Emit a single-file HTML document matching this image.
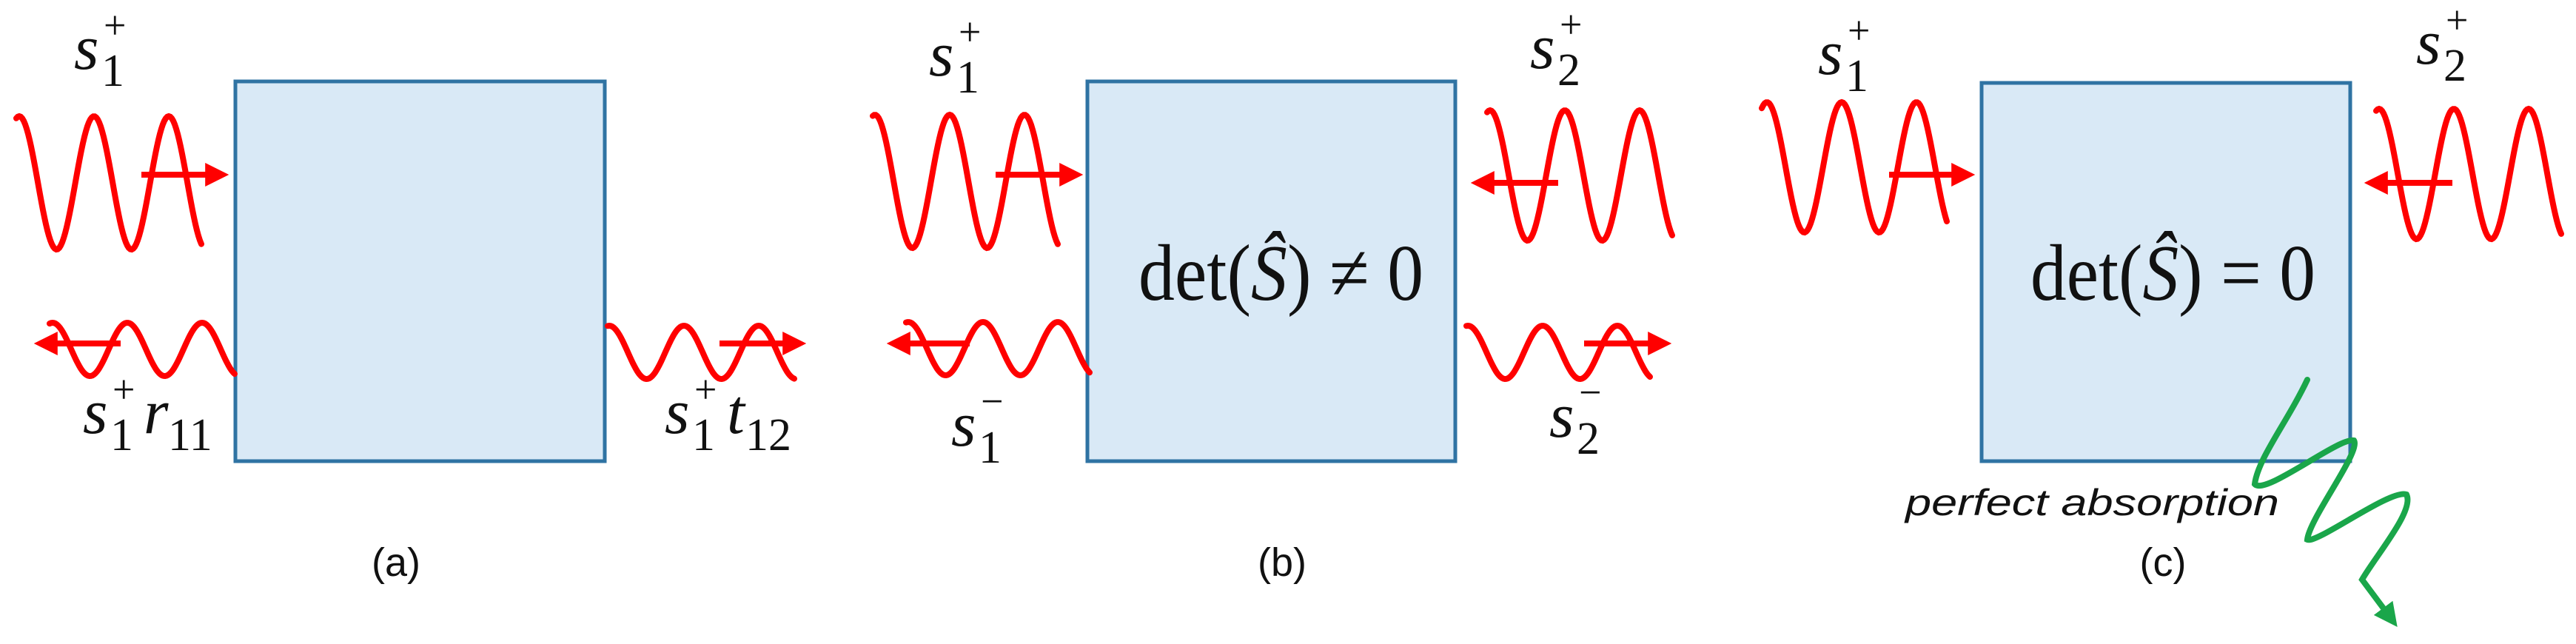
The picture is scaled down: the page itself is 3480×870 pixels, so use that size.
<!DOCTYPE html>
<html><head><meta charset="utf-8"><style>
html,body{margin:0;padding:0;background:#fff;}
svg{display:block}
.m{font-family:"Liberation Serif","DejaVu Serif","Times New Roman",serif !important;}
</style></head><body>
<svg id="s" width="3480" height="870" viewBox="0 0 3480 870" xmlns="http://www.w3.org/2000/svg">
<defs>
<marker id="ar" markerWidth="4" markerHeight="4" refX="2.6" refY="2" orient="auto" markerUnits="strokeWidth"><path d="M0,0 L4,2 L0,4 z" fill="#ff0000"/></marker>
<marker id="ag" markerWidth="4" markerHeight="4" refX="2.6" refY="2" orient="auto" markerUnits="strokeWidth"><path d="M0,0 L4,2 L0,4 z" fill="#1aa64a"/></marker>
</defs>
<g fill="#d9e9f6" stroke="#2f73a3" stroke-width="5">
<rect x="318" y="110" width="499" height="513"/>
<rect x="1469" y="110" width="497" height="513"/>
<rect x="2677" y="112" width="498" height="511"/>
</g>
<g id="waves" fill="none" stroke="#ff0000" stroke-width="8" stroke-linecap="round"></g>
<g fill="none" stroke="#ff0000" stroke-width="8" marker-end="url(#ar)">
<line x1="191" y1="236" x2="298" y2="236"/>
<line x1="163" y1="464" x2="57" y2="464"/>
<line x1="972" y1="464" x2="1078" y2="464"/>
<line x1="1345" y1="236" x2="1452" y2="236"/>
<line x1="1310" y1="464" x2="1209" y2="464"/>
<line x1="2105" y1="247" x2="1998" y2="247"/>
<line x1="2140" y1="464" x2="2247" y2="464"/>
<line x1="2552" y1="236" x2="2657" y2="236"/>
<line x1="3313" y1="247" x2="3205" y2="247"/>
</g>
<path d="M3117,513 C3090,570 3050,620 3046,654 C3060,670 3160,590 3180,595 C3190,610 3120,700 3117,729 C3130,735 3230,660 3251,668 C3262,690 3210,750 3191,783 L3232,838" fill="none" stroke="#1aa64a" stroke-width="8" stroke-linecap="round" marker-end="url(#ag)"/>
<g class="m" style="font-family:'Liberation Serif','DejaVu Serif',serif" fill="#111">
<g font-style="italic">
<text x="100" y="93" font-size="86">s</text><text x="137" y="116" font-size="62" font-style="normal">1</text><text x="140" y="52" font-size="54" font-style="normal">+</text>
<text x="112" y="585" font-size="86">s</text><text x="149" y="608" font-size="62" font-style="normal">1</text><text x="152" y="544" font-size="54" font-style="normal">+</text><text x="194" y="585" font-size="86">r</text><text x="227" y="608" font-size="62" font-style="normal">11</text>
<text x="898" y="585" font-size="86">s</text><text x="935" y="608" font-size="62" font-style="normal">1</text><text x="938" y="544" font-size="54" font-style="normal">+</text><text x="982" y="585" font-size="86">t</text><text x="1007" y="608" font-size="62" font-style="normal">12</text>
<text x="1255" y="102" font-size="86">s</text><text x="1292" y="125" font-size="62" font-style="normal">1</text><text x="1295" y="61" font-size="54" font-style="normal">+</text>
<text x="2067" y="92" font-size="86">s</text><text x="2104" y="115" font-size="62" font-style="normal">2</text><text x="2107" y="51" font-size="54" font-style="normal">+</text>
<text x="1285" y="602" font-size="86">s</text><text x="1322" y="625" font-size="62" font-style="normal">1</text><text x="1325" y="560" font-size="54" font-style="normal">−</text>
<text x="2093" y="590" font-size="86">s</text><text x="2130" y="613" font-size="62" font-style="normal">2</text><text x="2133" y="548" font-size="54" font-style="normal">−</text>
<text x="2456" y="100" font-size="86">s</text><text x="2493" y="123" font-size="62" font-style="normal">1</text><text x="2496" y="59" font-size="54" font-style="normal">+</text>
<text x="3264" y="86" font-size="86">s</text><text x="3301" y="109" font-size="62" font-style="normal">2</text><text x="3304" y="45" font-size="54" font-style="normal">+</text>
</g>
<text x="1538" y="405" font-size="108" textLength="385" lengthAdjust="spacingAndGlyphs">det(<tspan font-style="italic">Ŝ</tspan>) ≠ 0</text>
<text x="2743" y="405" font-size="108" textLength="385" lengthAdjust="spacingAndGlyphs">det(<tspan font-style="italic">Ŝ</tspan>) = 0</text>
</g>
<text style="font-family:'Liberation Sans',sans-serif" fill="#111" x="2574" y="696" font-size="50" font-style="italic" textLength="505" lengthAdjust="spacingAndGlyphs">perfect absorption</text>
<g style="font-family:'Liberation Sans',sans-serif" fill="#111" font-size="54" text-anchor="middle">
<text x="535" y="778">(a)</text>
<text x="1732" y="778">(b)</text>
<text x="2922" y="778">(c)</text>
</g>
</svg>
<script>
var W=[
 [22,273,247,90,127],[67,318,472,36,172],[821,1073,476,36,924],
 [1179,1429,245,90,1283],[1224,1473,471,36,1328],
 [2009,2260,237,88,2114],[1981,2230,476,36,2084],
 [2380,2630,226,88,2488],[3210,3461,235,88,3315]
];
var g=document.getElementById('waves'),L=101;
W.forEach(function(w){var d='';for(var x=w[0];x<=w[1];x+=2){var y=w[2]-w[3]*Math.cos(2*Math.PI*(x-w[4])/L);d+=(d?'L':'M')+x+','+y.toFixed(1);}
var p=document.createElementNS('http://www.w3.org/2000/svg','path');p.setAttribute('d',d);g.appendChild(p);});
</script>
</body></html>
